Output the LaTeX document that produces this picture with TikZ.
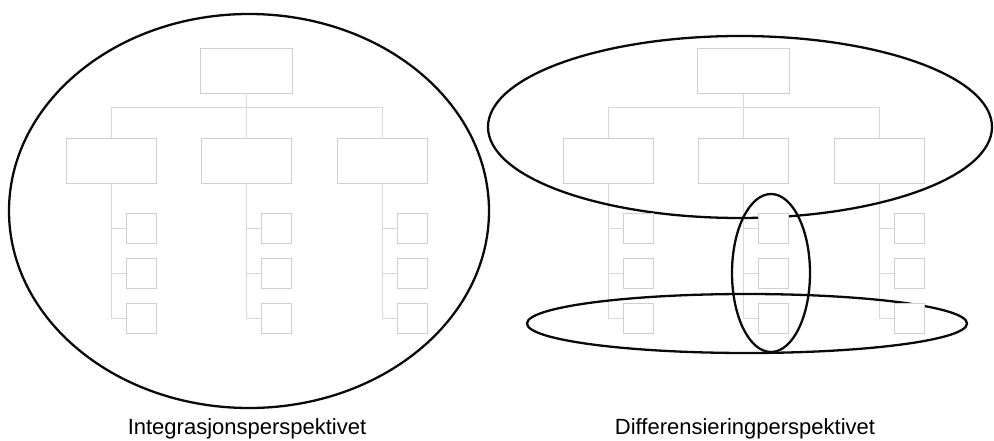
\documentclass[tikz,border=0pt]{standalone}
\usepackage{fontspec}
\setmainfont{Liberation Sans}
\definecolor{ink}{HTML}{0A0A0A}
\definecolor{chartgray}{HTML}{CFCFCF}
\pgfdeclarelayer{back}
\pgfsetlayers{back,main}
\begin{document}
\begin{tikzpicture}[x=1pt,y=-1pt,
  unit/.style={draw=chartgray,fill=white,inner sep=0pt,minimum width=90pt,minimum height=45pt},
  sub/.style={draw=chartgray,fill=white,inner sep=0pt,minimum size=30pt},
  link/.style={chartgray!80!white,line width=0.6pt},
  ring/.style={ink,line width=2.3pt},
  caption/.style={font=\fontsize{22}{26}\selectfont}]
  \useasboundingbox (0,0) rectangle (994,441);
  % the same organisation chart twice
  \foreach \p/\dx in {a/0,b/497}{
    \begin{scope}[xshift=\dx pt]
      \node[unit,minimum width=92pt] (\p-top) at (246,70.5) {};
      \node[unit] (\p-m1) at (111.5,160.5) {};
      \node[unit] (\p-m2) at (246,160.5) {};
      \node[unit] (\p-m3) at (382,160.5) {};
      \foreach \c/\sx in {1/141.5,2/276,3/412}
        \foreach \r/\sy in {1/228,2/273,3/318}
          \node[sub] (\p-s\c\r) at (\sx,\sy) {};
    \end{scope}
    \begin{pgfonlayer}{back}
      \draw[link] (\p-top) -- (\p-m2);
      \draw[link] (\p-m1.north) -- ++(0,-30) -| (\p-m3.north);
      \foreach \c in {1,2,3}
        \foreach \r in {1,2,3}
          \draw[link] (\p-m\c.south) |- (\p-s\c\r.west);
    \end{pgfonlayer}
  }
  % perspectives
  \begin{pgfonlayer}{back}
    \draw[ring] (249,211) ellipse [x radius=240pt, y radius=197pt];
    \draw[ring] (740,127) ellipse [x radius=252pt, y radius=91pt];
    \draw[ring] (771,273) ellipse [x radius=39pt, y radius=79pt];
    \draw[ring] (747,323.5) ellipse [x radius=220pt, y radius=29.5pt];
  \end{pgfonlayer}
  % captions
  \node[caption] (integ) at (247,429) {Integrasjonsperspektivet};
  \node[caption] (diff) at (745,429) {Differensieringperspektivet};
\end{tikzpicture}
\end{document}
